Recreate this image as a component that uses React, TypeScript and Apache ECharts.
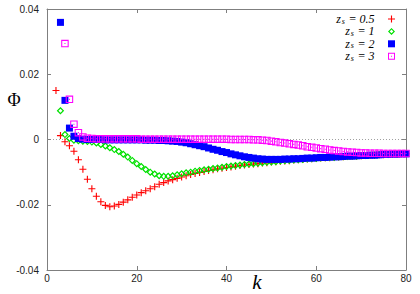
import React, { useEffect, useRef } from "react";
import * as echarts from "echarts";

// k range and axis ticks
const xMin = 0;
const xMax = 80;
const xInterval = 20;
const yMin = -0.04;
const yMax = 0.04;
const yInterval = 0.02;

const seriesNames = ["zs = 0.5", "zs = 1", "zs = 2", "zs = 3"];
const seriesColors = ["#ff0000", "#00e000", "#0000ff", "#ff00ff"];

// first k of each series (one point per integer k)
const kStart = [2, 3, 3, 4];

// Phi values, z_s = 0.5 (k = 2..80)
const phiZs05 = [
  0.015, 0.0012, -0.0007, -0.0019, -0.0036, -0.0062, -0.0091, -0.0122, -0.0151, -0.0174,
  -0.0191, -0.0202, -0.0206, -0.0204, -0.0199, -0.0192, -0.0185, -0.0177, -0.017, -0.0163,
  -0.0157, -0.0151, -0.0145, -0.0137, -0.0132, -0.0127, -0.0123, -0.0119, -0.0115, -0.0111,
  -0.0107, -0.0104, -0.0101, -0.0098, -0.0095, -0.0093, -0.009, -0.0088, -0.0086, -0.0084,
  -0.0082, -0.008, -0.0078, -0.0077, -0.0075, -0.0074, -0.0072, -0.0071, -0.0069, -0.0068,
  -0.0067, -0.0066, -0.0065, -0.0063, -0.0062, -0.0061, -0.006, -0.0059, -0.0058, -0.0057,
  -0.0056, -0.0056, -0.0055, -0.0054, -0.0053, -0.0052, -0.0052, -0.0051, -0.005, -0.0049,
  -0.0049, -0.0048, -0.0047, -0.0047, -0.0046, -0.0045, -0.0045, -0.0044, -0.0044,
];

// Phi values, z_s = 1 (k = 3..80)
const phiZs1 = [
  0.0088, 0.0015, 0.0003, -0.0002, -0.0004, -0.0005, -0.0006, -0.0008, -0.0011, -0.0015,
  -0.002, -0.0025, -0.0031, -0.0037, -0.0045, -0.0054, -0.0064, -0.0074, -0.0083, -0.0092,
  -0.01, -0.0106, -0.0111, -0.0113, -0.0113, -0.0111, -0.0108, -0.0105, -0.0102, -0.01,
  -0.0097, -0.0095, -0.0093, -0.0091, -0.0089, -0.0087, -0.0085, -0.0083, -0.0081, -0.008,
  -0.0078, -0.0077, -0.0075, -0.0074, -0.0073, -0.0071, -0.007, -0.0069, -0.0068, -0.0066,
  -0.0065, -0.0064, -0.0063, -0.0062, -0.0061, -0.006, -0.0059, -0.0058, -0.0057, -0.0056,
  -0.0055, -0.0055, -0.0054, -0.0053, -0.0052, -0.0051, -0.0051, -0.005, -0.0049, -0.0048,
  -0.0048, -0.0047, -0.0046, -0.0046, -0.0045, -0.0045, -0.0044, -0.0044,
];

// Phi values, z_s = 2 (k = 3..80)
const phiZs2 = [
  0.0359, 0.012, 0.0035, 0.001, 0.0003, 0.0001, 0.0, 0.0, 0.0, 0.0,
  -0.0001, -0.0001, -0.0001, -0.0001, -0.0001, -0.0001, -0.0001, -0.0001, -0.0001, -0.0002,
  -0.0002, -0.0002, -0.0003, -0.0003, -0.0004, -0.0005, -0.0006, -0.0008, -0.001, -0.0013,
  -0.0016, -0.0019, -0.0022, -0.0026, -0.003, -0.0033, -0.0037, -0.004, -0.0044, -0.0047,
  -0.005, -0.0053, -0.0055, -0.0057, -0.0059, -0.006, -0.0061, -0.0061, -0.0061, -0.0061,
  -0.006, -0.006, -0.0059, -0.0059, -0.0058, -0.0057, -0.0057, -0.0056, -0.0055, -0.0055,
  -0.0054, -0.0053, -0.0053, -0.0052, -0.0051, -0.0051, -0.005, -0.0049, -0.0049, -0.0048,
  -0.0048, -0.0047, -0.0046, -0.0046, -0.0045, -0.0045, -0.0044, -0.0044,
];

// Phi values, z_s = 3 (k = 4..80)
const phiZs3 = [
  0.0294, 0.0123, 0.0047, 0.0021, 0.0008, 0.0004, 0.0003, 0.0002, 0.0002, 0.0002,
  0.0002, 0.0002, 0.0002, 0.0002, 0.0002, 0.0002, 0.0002, 0.0001, 0.0001, 0.0001,
  0.0001, 0.0001, 0.0001, 0.0001, 0.0001, 0.0001, 0.0001, 0.0001, 0.0001, 0.0001,
  0.0001, 0.0001, 0.0001, 0.0001, 0.0001, 0.0001, 0.0001, 0.0, 0.0, 0.0,
  0.0, 0.0, -0.0001, -0.0001, -0.0002, -0.0003, -0.0005, -0.0007, -0.0009, -0.0011,
  -0.0013, -0.0015, -0.0017, -0.0019, -0.0022, -0.0024, -0.0026, -0.0028, -0.003, -0.0032,
  -0.0034, -0.0035, -0.0037, -0.0038, -0.0039, -0.004, -0.0041, -0.0041, -0.0042, -0.0042,
  -0.0042, -0.0043, -0.0043, -0.0043, -0.0043, -0.0043, -0.0043,
];

const seriesValues = [phiZs05, phiZs1, phiZs2, phiZs3];

const PLUS = "path://M4.2,0H5.8V4.2H10V5.8H5.8V10H4.2V5.8H0V4.2H4.2Z";
const DIAMOND_RING = "path://M5,0L10,5L5,10L0,5Z M5,2.3L2.3,5L5,7.7L7.7,5Z";
const SQUARE = "path://M0,0H10V10H0Z";
const SQUARE_RING_DOT =
  "path://M0,0H10V10H0Z M1.4,1.4V8.6H8.6V1.4Z M4.3,4.3H5.7V5.7H4.3Z";
const symbols = [PLUS, DIAMOND_RING, SQUARE, SQUARE_RING_DOT];
const symbolSizes = [7, 7.5, 7, 7.5];

const AXIS_GRAY = "#7f7f7f";

function axisCommon() {
  return {
    axisLine: { show: true, onZero: false, lineStyle: { color: AXIS_GRAY, width: 1 } },
    axisTick: { show: true, inside: true, length: 4, lineStyle: { color: AXIS_GRAY, width: 1 } },
    splitLine: { show: false },
  };
}

export default function App() {
  const ref = useRef<HTMLDivElement>(null);
  useEffect(() => {
    if (!ref.current) return;
    const chart = echarts.init(ref.current, null, { renderer: "svg" });
    const series: any[] = seriesNames.map((name, si) => ({
      name,
      type: "scatter",
      symbol: symbols[si],
      symbolSize: symbolSizes[si],
      itemStyle: { color: seriesColors[si], opacity: 1 },
      data: seriesValues[si].map((v, i) => [kStart[si] + i, v]),
      z: 3 + si,
    }));
    series[0].markLine = {
      silent: true,
      symbol: ["none", "none"],
      label: { show: false },
      lineStyle: { color: "#888", width: 0.8, type: [1, 2] },
      data: [{ yAxis: 0 }],
      z: 1,
    };
    chart.setOption({
      animation: false,
      backgroundColor: "#fff",
      grid: { left: 47, right: 14, top: 9, bottom: 24, outerBoundsMode: "none" },
      xAxis: [
        {
          type: "value",
          min: xMin,
          max: xMax,
          interval: xInterval,
          position: "bottom",
          ...axisCommon(),
          axisLabel: { show: true, fontSize: 10, color: "#222", fontFamily: "Liberation Sans", margin: 3 },
        },
        {
          type: "value",
          min: xMin,
          max: xMax,
          interval: xInterval,
          position: "top",
          ...axisCommon(),
          axisLabel: { show: false },
        },
      ],
      yAxis: [
        {
          type: "value",
          min: yMin,
          max: yMax,
          interval: yInterval,
          position: "left",
          ...axisCommon(),
          axisLabel: { show: true, fontSize: 10, color: "#222", fontFamily: "Liberation Sans", margin: 8 },
        },
        {
          type: "value",
          min: yMin,
          max: yMax,
          interval: yInterval,
          position: "right",
          ...axisCommon(),
          axisLabel: { show: false },
        },
      ],
      legend: {
        orient: "vertical",
        align: "right",
        right: 25,
        top: 13,
        padding: 0,
        itemWidth: 24,
        itemHeight: 7,
        itemGap: 0.4,
        data: seriesNames,
        formatter: (name: string) => {
          const rest = name.slice(2);
          return "{z|z}{s|s}{z|" + rest + "}";
        },
        textStyle: {
          fontFamily: "Liberation Serif",
          fontStyle: "italic",
          fontSize: 12,
          color: "#000",
          rich: {
            z: {
              fontFamily: "Liberation Serif",
              fontStyle: "italic",
              fontSize: 12,
              lineHeight: 12,
              color: "#000",
            },
            s: {
              fontFamily: "Liberation Serif",
              fontStyle: "italic",
              fontSize: 8,
              lineHeight: 6,
              padding: [0, 0.5, 0, 0.8],
              verticalAlign: "bottom",
              color: "#000",
            },
          },
        },
      },
      graphic: [
        {
          type: "text",
          x: 14,
          y: 100,
          style: {
            text: "Φ",
            font: '18px "Liberation Serif"',
            fill: "#000",
            align: "center",
            verticalAlign: "middle",
          },
        },
        {
          type: "text",
          x: 257,
          y: 282,
          style: {
            text: "k",
            font: 'italic 21px "Liberation Serif"',
            fill: "#000",
            align: "center",
            verticalAlign: "middle",
          },
        },
      ],
      series,
    });
    return () => chart.dispose();
  }, []);
  return (
    <div
      ref={ref}
      style={{ position: "absolute", left: 0, top: 0, width: 420, height: 294 }}
    />
  );
}
